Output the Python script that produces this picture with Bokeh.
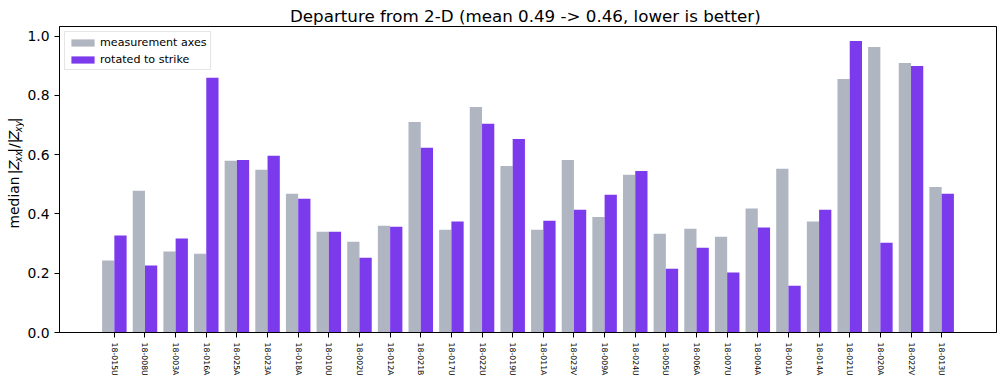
import math

from bokeh.embed import file_html
from bokeh.layouts import row
from bokeh.models import (ColumnDataSource, FixedTicker, Label, Legend,
                          LegendItem, NumeralTickFormatter, Range1d)
from bokeh.plotting import figure
from bokeh.resources import INLINE
from bokeh.transform import dodge

# --- data -------------------------------------------------------------------
stations = [
    "18-015U", "18-008U", "18-003A", "18-016A", "18-025A", "18-023A", "18-018A",
    "18-010U", "18-002U", "18-012A", "18-021B", "18-017U", "18-022U", "18-019U",
    "18-011A", "18-023V", "18-009A", "18-024U", "18-005U", "18-006A", "18-007U",
    "18-004A", "18-001A", "18-014A", "18-021U", "18-020A", "18-022V", "18-013U",
]
measurement_axes = [
    0.243, 0.478, 0.273, 0.266, 0.579, 0.549, 0.468,
    0.340, 0.306, 0.360, 0.710, 0.347, 0.761, 0.562,
    0.347, 0.582, 0.390, 0.532, 0.333, 0.350, 0.323,
    0.418, 0.552, 0.374, 0.855, 0.963, 0.909, 0.491,
]
rotated_to_strike = [
    0.327, 0.226, 0.317, 0.859, 0.582, 0.596, 0.451,
    0.340, 0.252, 0.357, 0.623, 0.374, 0.704, 0.653,
    0.377, 0.414, 0.465, 0.545, 0.215, 0.286, 0.202,
    0.354, 0.158, 0.414, 0.983, 0.303, 0.899, 0.468,
]

GRAY = "#b0b6c1"
PURPLE = "#7c3aed"
FONT = "DejaVu Sans"

n = len(stations)
idx = list(range(n))
bar_w = 0.4

# axis limits with 5 % margins around the bar extent
x_span = (n - 1) + 2 * bar_w
x_lo = -bar_w - 0.05 * x_span
x_hi = (n - 1) + bar_w + 0.05 * x_span
y_lo = 0.0
y_hi = 1.05 * max(max(measurement_axes), max(rotated_to_strike))

mean_meas = sum(measurement_axes) / n
mean_rot = sum(rotated_to_strike) / n

# page geometry (pixels)
W, H = 1000, 380
LABEL_W = 24                     # strip holding the y-axis title
LEFT, RIGHT, TOP, BOTTOM = 57, 4, 26, 48
frame_h = H - TOP - BOTTOM

src = ColumnDataSource(dict(idx=idx, meas=measurement_axes, rot=rotated_to_strike))

p = figure(
    width=W - LABEL_W, height=H,
    x_range=Range1d(x_lo, x_hi), y_range=Range1d(y_lo, y_hi),
    output_backend="svg", toolbar_location=None,
    min_border_left=LEFT - LABEL_W, min_border_right=RIGHT,
    min_border_top=TOP, min_border_bottom=BOTTOM,
)
p.title.text = f"Departure from 2-D  (mean {mean_meas:.2f} -> {mean_rot:.2f}, lower is better)"
p.title.align = "center"
p.title.text_font = FONT
p.title.text_font_size = "16.7px"
p.title.text_font_style = "normal"
p.title.text_color = "black"
p.title.standoff = 2

p.xgrid.visible = False
p.ygrid.visible = False
p.outline_line_color = "black"
p.outline_line_width = 1
p.background_fill_color = "white"
p.border_fill_color = "white"

r_meas = p.vbar(x=dodge("idx", -bar_w / 2), top="meas", width=bar_w, source=src,
                fill_color=GRAY, line_color=None)
r_rot = p.vbar(x=dodge("idx", bar_w / 2), top="rot", width=bar_w, source=src,
               fill_color=PURPLE, line_color=None)

# x axis: station names, vertical
xa = p.xaxis[0]
xa.ticker = FixedTicker(ticks=idx)
xa.major_label_overrides = {i: s for i, s in enumerate(stations)}
xa.major_label_orientation = "vertical"
xa.major_label_text_font = FONT
xa.major_label_text_font_size = "7.8px"
xa.major_label_text_color = "black"
xa.major_label_standoff = 5
xa.major_tick_out = 5
xa.major_tick_in = 0
xa.minor_tick_line_color = None
xa.axis_line_color = "black"
xa.major_tick_line_color = "black"

# y axis
ya = p.yaxis[0]
ya.ticker = FixedTicker(ticks=[0.0, 0.2, 0.4, 0.6, 0.8, 1.0])
ya.formatter = NumeralTickFormatter(format="0.0")
ya.major_label_text_font = FONT
ya.major_label_text_font_size = "13.9px"
ya.major_label_text_color = "black"
ya.major_label_standoff = 5
ya.major_tick_out = 5
ya.major_tick_in = 0
ya.minor_tick_line_color = None
ya.axis_line_color = "black"
ya.major_tick_line_color = "black"

legend = Legend(items=[
    LegendItem(label="measurement axes", renderers=[r_meas]),
    LegendItem(label="rotated to strike", renderers=[r_rot]),
], location="top_left")
legend.margin = 5
legend.padding = 3
legend.spacing = 3
legend.glyph_width = 29
legend.glyph_height = 9
legend.label_height = 14
legend.label_standoff = 3
legend.label_text_font = FONT
legend.label_text_font_size = "11.1px"
legend.label_text_color = "black"
legend.border_line_color = "#cccccc"
legend.border_line_width = 1
legend.background_fill_color = "white"
legend.background_fill_alpha = 0.8
p.add_layout(legend)

# narrow strip to the left carrying the y-axis title with subscripts;
# its data space is plain pixels (x from left, y from bottom)
ylab = figure(
    width=LABEL_W, height=H,
    x_range=Range1d(0, LABEL_W), y_range=Range1d(0, H),
    x_axis_type=None, y_axis_type=None,
    output_backend="svg", toolbar_location=None, min_border=0,
)
ylab.outline_line_color = None
ylab.xgrid.visible = False
ylab.ygrid.visible = False
ylab.border_fill_color = "white"
ylab.background_fill_color = "white"

label_pieces = [
    # text, style, size(px), subscript shift(px), glyph length(px), advance(px)
    ("median", "normal", 13.9, 0.0, 52.0, 61.0),
    ("|", "normal", 13.9, 0.0, 6.0, 6.0),
    ("Z", "italic", 13.9, 0.0, 10.5, 10.5),
    ("xx", "italic", 9.7, 3.0, 11.5, 11.5),
    ("|/|", "normal", 13.9, 0.0, 15.0, 15.0),
    ("Z", "italic", 13.9, 0.0, 10.5, 10.5),
    ("xy", "italic", 9.7, 3.0, 11.5, 11.5),
    ("|", "normal", 13.9, 0.0, 5.0, 5.0),
]
total_len = sum(pc[5] for pc in label_pieces)
baseline_px = 18
mid_from_bottom = BOTTOM + frame_h / 2
cursor = mid_from_bottom - total_len / 2
for text, style, size, shift, glyph_len, adv in label_pieces:
    # each piece is centred on its own slot along the rotated baseline
    ylab.add_layout(Label(
        x=baseline_px + shift - 0.3 * size, y=cursor + glyph_len / 2,
        text=text, angle=math.pi / 2, angle_units="rad",
        text_align="center", text_baseline="middle",
        text_font=FONT, text_font_size=f"{size}px", text_font_style=style,
        text_color="black",
    ))
    cursor += adv

layout = row(ylab, p, spacing=0)
open("out.html", "w").write(file_html(layout, INLINE))
